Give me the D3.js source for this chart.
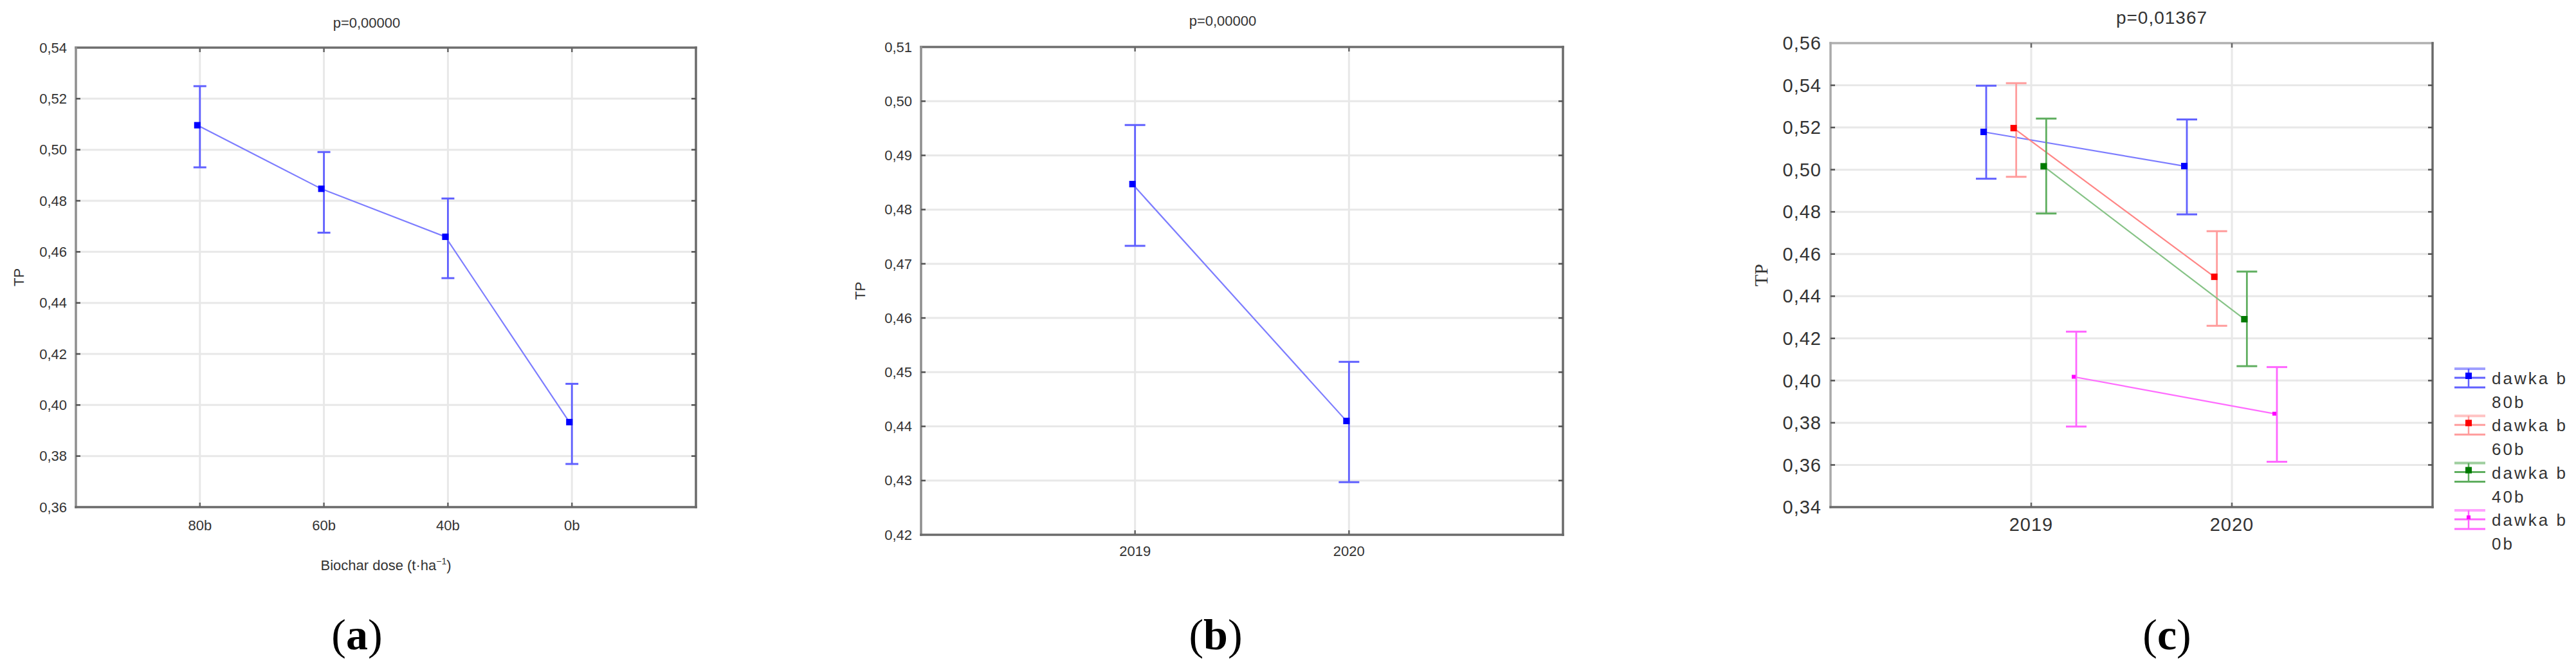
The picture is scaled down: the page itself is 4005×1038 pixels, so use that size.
<!DOCTYPE html>
<html>
<head>
<meta charset="utf-8">
<script src="https://cdn.jsdelivr.net/npm/d3@7/dist/d3.min.js"></script>
<style>
  body { margin: 0; background: #fff; }
  svg { display: block; }
</style>
</head>
<body>
<div id="chart"></div>
<script>

// (a) biochar dose
var doseCats = ["80b", "60b", "40b", "0b"];
var doseMean = [0.5096, 0.4847, 0.4659, 0.3933];
var doseLow  = [0.4931, 0.4675, 0.4497, 0.3769];
var doseHigh = [0.5249, 0.4991, 0.4809, 0.4083];
var doseTicks = [0.36, 0.38, 0.40, 0.42, 0.44, 0.46, 0.48, 0.50, 0.52, 0.54];

// (b) year
var yearCats = ["2019", "2020"];
var yearMean = [0.4847, 0.4410];
var yearLow  = [0.4733, 0.4297];
var yearHigh = [0.4956, 0.4519];
var yearTicks = [0.42, 0.43, 0.44, 0.45, 0.46, 0.47, 0.48, 0.49, 0.50, 0.51];

// (c) dose x year
var seriesNames = ["80b", "60b", "40b", "0b"];
var interMean = [[0.5179, 0.5017], [0.5197, 0.4492], [0.5016, 0.4291], [0.4018, 0.3843]];
var interLow  = [[0.4957, 0.4788], [0.4966, 0.4260], [0.4792, 0.4068], [0.3782, 0.3615]];
var interHigh = [[0.5398, 0.5238], [0.5410, 0.4708], [0.5242, 0.4517], [0.4232, 0.4064]];
var interTicks = [0.34, 0.36, 0.38, 0.40, 0.42, 0.44, 0.46, 0.48, 0.50, 0.52, 0.54, 0.56];

var titles = ["p=0,00000", "p=0,00000", "p=0,01367"];

var styles = [
  {line: "#7d7dff", bar: "#6060ff", mark: "#0000ff", size: 10},
  {line: "#ff8585", bar: "#ff9c9c", mark: "#ff0000", size: 10},
  {line: "#86c386", bar: "#5fae5f", mark: "#007a00", size: 10},
  {line: "#ff6cff", bar: "#ff66ff", mark: "#ff00ff", size: 6}
];

var svg = d3.select("#chart").append("svg")
  .attr("width", 4005)
  .attr("height", 1038);

var sans = "'Liberation Sans', Arial, sans-serif";
var serif = "'Liberation Serif', 'Times New Roman', serif";

function comma(v) { return d3.format(".2f")(v).replace(".", ","); }

function drawPanel(p) {
  var x = d3.scalePoint().domain(p.cats).range([p.left, p.right]).padding(1);
  var y = d3.scaleLinear().domain(d3.extent(p.ticks)).range([p.bottom, p.top]);
  var g = svg.append("g");

  // grid
  g.selectAll(".hgrid").data(p.ticks.slice(1, -1)).enter().append("line")
    .attr("x1", p.left).attr("x2", p.right)
    .attr("y1", function(d) { return y(d); }).attr("y2", function(d) { return y(d); })
    .style("stroke", "#e8e8e8").style("stroke-width", 3);
  g.selectAll(".vgrid").data(p.cats).enter().append("line")
    .attr("x1", function(d) { return x(d); }).attr("x2", function(d) { return x(d); })
    .attr("y1", p.top).attr("y2", p.bottom)
    .style("stroke", "#e8e8e8").style("stroke-width", 3);

  // frame
  var sides = [
    [p.left, p.top, p.right, p.top, p.topCol],
    [p.left, p.top, p.left, p.bottom, p.leftCol],
    [p.left, p.bottom, p.right, p.bottom, "#6a6a6a"],
    [p.right, p.top, p.right, p.bottom, "#6a6a6a"]
  ];
  g.selectAll(".side").data(sides).enter().append("line")
    .attr("x1", function(d) { return d[0]; }).attr("y1", function(d) { return d[1]; })
    .attr("x2", function(d) { return d[2]; }).attr("y2", function(d) { return d[3]; })
    .style("stroke", function(d) { return d[4]; })
    .style("stroke-width", 3.5)
    .style("stroke-linecap", "square");

  // inner ticks
  p.ticks.slice(1, -1).forEach(function(t) {
    [[p.left, p.left + 7], [p.right - 7, p.right]].forEach(function(s) {
      g.append("line").attr("x1", s[0]).attr("x2", s[1]).attr("y1", y(t)).attr("y2", y(t))
        .style("stroke", "#555").style("stroke-width", 2.5);
    });
  });
  p.cats.forEach(function(c) {
    [[p.top, p.top + 7], [p.bottom - 7, p.bottom]].forEach(function(s) {
      g.append("line").attr("x1", x(c)).attr("x2", x(c)).attr("y1", s[0]).attr("y2", s[1])
        .style("stroke", "#666").style("stroke-width", 2.5);
    });
  });

  // tick labels
  g.selectAll(".ylab").data(p.ticks).enter().append("text")
    .attr("x", p.left - 14)
    .attr("y", function(d) { return y(d); })
    .attr("dy", "0.35em")
    .attr("text-anchor", "end")
    .style("font-family", sans).style("font-size", p.fs + "px")
    .style("letter-spacing", p.ls + "px")
    .style("fill", "#333")
    .text(comma);
  g.selectAll(".xlab").data(p.cats).enter().append("text")
    .attr("x", function(d) { return x(d); })
    .attr("y", p.bottom + p.xLabOff)
    .attr("dy", "0.35em")
    .attr("text-anchor", "middle")
    .style("font-family", sans).style("font-size", p.fs + "px")
    .style("letter-spacing", p.ls + "px")
    .style("fill", "#333")
    .text(function(d) { return d; });

  // title
  g.append("text")
    .attr("x", p.titleX).attr("y", p.titleY).attr("dy", "0.35em")
    .attr("text-anchor", "middle")
    .style("font-family", sans).style("font-size", p.titleFs + "px")
    .style("letter-spacing", p.ls + "px")
    .style("fill", "#333")
    .text(p.title);

  // y title
  g.append("text")
    .attr("transform", "translate(" + p.yTitleX + "," + ((p.top + p.bottom) / 2) + ") rotate(-90)")
    .attr("dy", "0.35em")
    .attr("text-anchor", "middle")
    .style("font-family", p.yTitleFont).style("font-size", p.yTitleFs + "px")
    .style("fill", "#333")
    .text("TP");

  // panel letter
  var lab = svg.append("text")
    .attr("x", p.letterX).attr("y", 1009)
    .attr("text-anchor", "middle")
    .style("font-family", serif).style("font-size", "68px")
    .style("fill", "#000");
  lab.append("tspan").text("(");
  lab.append("tspan").style("font-weight", "bold").text(p.letter);
  lab.append("tspan").text(")");

  return {g: g, x: x, y: y};
}

function drawSeries(panel, cats, mean, low, high, dx, st, cap) {
  var g = panel.g, x = panel.x, y = panel.y;
  var shift = -4;
  var cx = function(i) { return x(cats[i]) + dx; };

  g.append("path")
    .datum(mean)
    .attr("d", d3.line().x(function(d, i) { return cx(i) + shift; }).y(function(d) { return y(d); }))
    .style("fill", "none")
    .style("stroke", st.line)
    .style("stroke-width", 2.2);

  mean.forEach(function(m, i) {
    g.append("line").attr("x1", cx(i)).attr("x2", cx(i)).attr("y1", y(low[i])).attr("y2", y(high[i]))
      .style("stroke", st.bar).style("stroke-width", 2.8);
    [low[i], high[i]].forEach(function(v) {
      g.append("line").attr("x1", cx(i) - cap / 2).attr("x2", cx(i) + cap / 2).attr("y1", y(v)).attr("y2", y(v))
        .style("stroke", st.bar).style("stroke-width", 3);
    });
    g.append("rect")
      .attr("x", cx(i) + shift - st.size / 2).attr("y", y(m) - st.size / 2)
      .attr("width", st.size).attr("height", st.size)
      .style("fill", st.mark);
  });
}

// (a)
var pa = drawPanel({
  cats: doseCats, ticks: doseTicks, left: 118, right: 1082, top: 74, bottom: 788,
  fs: 22, ls: 0, xLabOff: 28, title: titles[0], titleX: 570, titleY: 35, titleFs: 22,
  yTitleX: 29, yTitleFont: sans, yTitleFs: 22, topCol: "#6e6e6e", leftCol: "#8e8e8e",
  letter: "a", letterX: 555
});
drawSeries(pa, doseCats, doseMean, doseLow, doseHigh, 0, styles[0], 20);
pa.g.append("text")
  .attr("x", 600).attr("y", 878).attr("dy", "0.35em")
  .attr("text-anchor", "middle")
  .style("font-family", sans).style("font-size", "22px").style("fill", "#333")
  .html("Biochar dose (t·ha<tspan dy='-9' font-size='14px'>−1</tspan><tspan dy='9'>)</tspan>");

// (b)
var pb = drawPanel({
  cats: yearCats, ticks: yearTicks, left: 1432, right: 2430, top: 73, bottom: 831,
  fs: 22, ls: 0, xLabOff: 25, title: titles[1], titleX: 1901, titleY: 32, titleFs: 22,
  yTitleX: 1337, yTitleFont: sans, yTitleFs: 22, topCol: "#6e6e6e", leftCol: "#8e8e8e",
  letter: "b", letterX: 1890
});
drawSeries(pb, yearCats, yearMean, yearLow, yearHigh, 0, styles[0], 32);

// (c)
var pc = drawPanel({
  cats: yearCats, ticks: interTicks, left: 2846, right: 3782, top: 67, bottom: 788,
  fs: 29, ls: 1, xLabOff: 27, title: titles[2], titleX: 3361, titleY: 27, titleFs: 28,
  yTitleX: 2737, yTitleFont: serif, yTitleFs: 30, topCol: "#b0b0b0", leftCol: "#aaaaaa",
  letter: "c", letterX: 3369
});
var offset = d3.scalePoint().domain(seriesNames).range([-70, 70]);
seriesNames.forEach(function(s, k) {
  drawSeries(pc, yearCats, interMean[k], interLow[k], interHigh[k], offset(s), styles[k], 32);
});

// legend
var leg = svg.append("g");
seriesNames.forEach(function(s, k) {
  var y0 = 587 + k * 73.3, st = styles[k];
  var e = leg.append("g");
  e.append("line").attr("x1", 3816).attr("x2", 3864).attr("y1", y0 - 14).attr("y2", y0 - 14)
    .style("stroke", st.bar).style("stroke-width", 4).style("opacity", 0.6);
  e.append("line").attr("x1", 3816).attr("x2", 3864).attr("y1", y0).attr("y2", y0)
    .style("stroke", st.bar).style("stroke-width", 3);
  e.append("line").attr("x1", 3816).attr("x2", 3864).attr("y1", y0 + 15).attr("y2", y0 + 15)
    .style("stroke", st.bar).style("stroke-width", 3);
  e.append("line").attr("x1", 3838).attr("x2", 3838).attr("y1", y0 - 14).attr("y2", y0 + 15)
    .style("stroke", st.bar).style("stroke-width", 2.5);
  e.append("rect").attr("x", 3838 - st.size / 2).attr("y", y0 - 3 - st.size / 2)
    .attr("width", st.size).attr("height", st.size).style("fill", st.mark);
  e.append("text").attr("x", 3874).attr("y", y0 + 1).attr("dy", "0.35em")
    .style("font-family", sans).style("font-size", "26px").style("letter-spacing", "3px")
    .style("fill", "#333").text("dawka b");
  e.append("text").attr("x", 3874).attr("y", y0 + 38).attr("dy", "0.35em")
    .style("font-family", sans).style("font-size", "26px").style("letter-spacing", "3px")
    .style("fill", "#333").text(s);
});

</script>
</body>
</html>
